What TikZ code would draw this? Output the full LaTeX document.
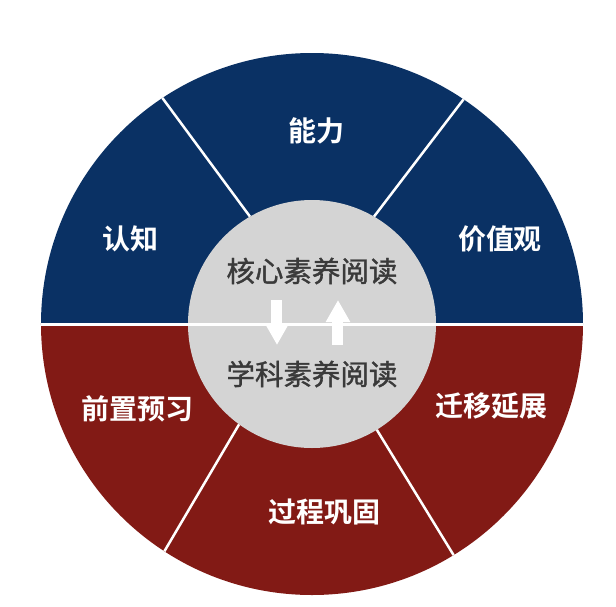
\documentclass[tikz,border=0pt]{standalone}
\usepackage{fontspec}
\newfontfamily\cjk{Noto Sans CJK SC}[BoldFont={Noto Sans CJK SC Bold}]
\newfontfamily\cjkcore{Noto Sans CJK SC}[FakeBold=1.2]
\usetikzlibrary{arrows.meta}
\definecolor{ringblue}{RGB}{10,49,100}
\definecolor{ringred}{RGB}{130,26,21}
\definecolor{coregray}{RGB}{212,212,212}
\definecolor{coretext}{RGB}{58,58,58}

\begin{document}
\begin{tikzpicture}[x=1pt, y=1pt,
  sector/.style={font=\cjk\bfseries\fontsize{28}{30}\selectfont, text=white, inner sep=0pt},
  core/.style={font=\cjkcore\fontsize{28.5}{30}\selectfont, text=coretext, inner sep=0pt},
  divider/.style={white, line width=2.5pt},
  flow/.style={white, line width=11pt, -{Triangle[length=22pt, width=23pt]}}]

  \useasboundingbox (-312,-282) rectangle (304,324);

  % Outer ring
  \fill[ringblue] (271,0) arc[start angle=0, end angle=180, radius=271] -- cycle;
  \fill[ringred] (-271,0) arc[start angle=180, end angle=360, radius=271] -- cycle;

  % Dividers
  \draw[divider] (120:124) -- (123.5:271);
  \draw[divider] (60:124) -- (56:271);
  \draw[divider] (234:124) -- (237:271);
  \draw[divider] (301.5:124) -- (301.5:271);

  % Core
  \fill[coregray] (0,0) circle[radius=124];
  \draw[white, line width=3pt] (-271,0) -- (271,0);

  % Upper labels
  \node[sector] (N1) at (5,193) {能力};
  \node[sector] (N2) at (-181,85) {认知};
  \node[sector] (N3) at (188,85) {价值观};

  % Lower labels
  \node[sector] (P1) at (-174,-85) {前置预习};
  \node[sector] (P2) at (13,-188) {过程巩固};
  \node[sector] (P3) at (180,-82) {迁移延展};

  % Core labels
  \node[core] (C1) at (0,53) {核心素养阅读};
  \node[core] (C2) at (0,-50) {学科素养阅读};

  % Block arrows
  \coordinate (D1) at (-35,24);
  \coordinate (D2) at (-35,-21);
  \coordinate (U1) at (26,-21);
  \coordinate (U2) at (26,24);
  \draw[flow] (D1) -- (D2);
  \draw[flow] (U1) -- (U2);

\end{tikzpicture}
\end{document}
